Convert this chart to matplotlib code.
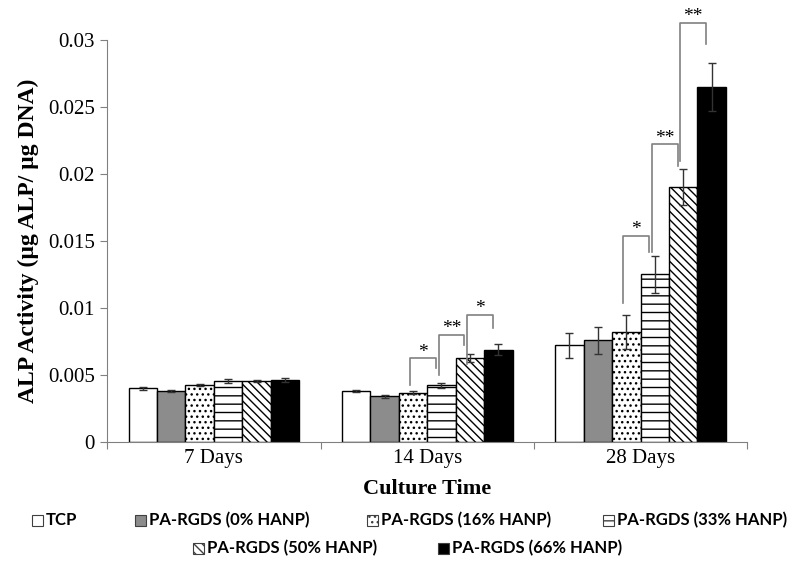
import matplotlib.pyplot as plt
from matplotlib.patches import Rectangle
import numpy as np

# culture time groups
groups = ["7 Days", "14 Days", "28 Days"]
series = ["TCP", "PA-RGDS (0% HANP)", "PA-RGDS (16% HANP)",
          "PA-RGDS (33% HANP)", "PA-RGDS (50% HANP)", "PA-RGDS (66% HANP)"]

# ALP activity per series, one value per group
tcp = [0.0040, 0.0038, 0.0072]
hanp0 = [0.0038, 0.0034, 0.0076]
hanp16 = [0.00425, 0.00368, 0.00823]
hanp33 = [0.00457, 0.00423, 0.0125]
hanp50 = [0.00455, 0.00625, 0.0190]
hanp66 = [0.00465, 0.00689, 0.0265]

tcp_err = [0.0001, 0.0001, 0.0009]
hanp0_err = [0.0001, 0.0001, 0.0010]
hanp16_err = [0.0001, 0.0001, 0.00128]
hanp33_err = [0.00015, 0.0002, 0.0014]
hanp50_err = [0.0001, 0.0003, 0.00135]
hanp66_err = [0.00015, 0.0004, 0.0018]

# significance brackets: group, left series, left foot, top, right foot, stars
br_group = [1, 1, 1, 2, 2, 2]
br_left = [2, 3, 4, 2, 3, 4]
br_lfoot = [0.00425, 0.0050, 0.0058, 0.0104, 0.0142, 0.0210]
br_top = [0.00627, 0.0080, 0.0095, 0.0154, 0.0222, 0.0313]
br_rfoot = [0.0055, 0.0072, 0.0085, 0.0142, 0.0206, 0.0297]
br_text = ["*", "**", "*", "*", "**", "**"]

values = [tcp, hanp0, hanp16, hanp33, hanp50, hanp66]
errors = [tcp_err, hanp0_err, hanp16_err, hanp33_err, hanp50_err, hanp66_err]
colors = ["white", "#8c8c8c", "white", "white", "white", "black"]
hatches = [None, None, "...", "--", "\\\\\\\\", None]

plt.rcParams["hatch.linewidth"] = 1.0
serif = ["Liberation Serif", "DejaVu Serif"]

fig = plt.figure(figsize=(8, 5.71), dpi=100)
ax = fig.add_axes([0.134, 0.226, 0.8, 0.704])

x = np.arange(len(groups))
w = 0.8 / len(series)
for i in range(len(series)):
    pos = x + (i - 2.5) * w
    ax.bar(pos, values[i], w, color=colors[i], edgecolor="black",
           linewidth=1, hatch=hatches[i], zorder=2)
    ax.errorbar(pos, values[i], yerr=errors[i], fmt="none", ecolor="#333333",
                elinewidth=1, capsize=3, capthick=1, zorder=3)

for g, s, lf, top, rf, t in zip(br_group, br_left, br_lfoot, br_top, br_rfoot, br_text):
    xl = g + (s - 2.5) * w - 0.1 * w
    xr = g + (s + 1 - 2.5) * w - 0.2 * w
    ax.plot([xl, xl, xr, xr], [lf, top, top, rf], color="#808080", lw=1.2,
            clip_on=False, zorder=4)
    ax.text((xl + xr) / 2, top - 0.0002, t, ha="center", va="bottom",
            fontsize=14, family=serif, clip_on=False)

ax.set_xlim(-0.5, 2.5)
ax.set_ylim(0, 0.03)
ax.set_yticks(np.arange(0, 0.0301, 0.005))
ax.set_yticklabels(["0", "0.005", "0.01", "0.015", "0.02", "0.025", "0.03"],
                   family=serif, fontsize=15)
ax.set_xticks([-0.5, 0.5, 1.5, 2.5])
ax.set_xticklabels([])
ax.set_xticks(x, minor=True)
ax.set_xticklabels(groups, minor=True, family=serif, fontsize=15)
ax.tick_params(axis="x", which="minor", length=0, pad=5)
ax.tick_params(axis="x", which="major", length=5, color="#808080")
ax.tick_params(axis="y", length=5, color="#808080", pad=4)
for side in ["top", "right"]:
    ax.spines[side].set_visible(False)
for side in ["left", "bottom"]:
    ax.spines[side].set_color("#808080")

ax.set_ylabel("ALP Activity (µg ALP/ µg DNA)", family=serif, fontsize=17,
              fontweight="bold", labelpad=6)
ax.set_xlabel("Culture Time", family=serif, fontsize=16, fontweight="bold",
              labelpad=8)

# legend entries placed in two rows (pixel positions of each swatch)
leg_x = [32, 135, 367, 603, 193, 438]
leg_y = [520, 520, 520, 520, 548, 548]
W, H = 800, 571
box = 11
for i in range(len(series)):
    fig.patches.append(Rectangle((leg_x[i] / W, (H - leg_y[i] - box / 2) / H),
                                 box / W, box / H, transform=fig.transFigure,
                                 facecolor=colors[i], edgecolor="#404040",
                                 hatch=hatches[i], linewidth=0.8))
    fig.text((leg_x[i] + box + 3) / W, (H - leg_y[i]) / H, series[i],
             ha="left", va="center", family=["Lato", "DejaVu Sans"],
             fontsize=12, fontweight="bold")

fig.savefig("out.png", dpi=100)
